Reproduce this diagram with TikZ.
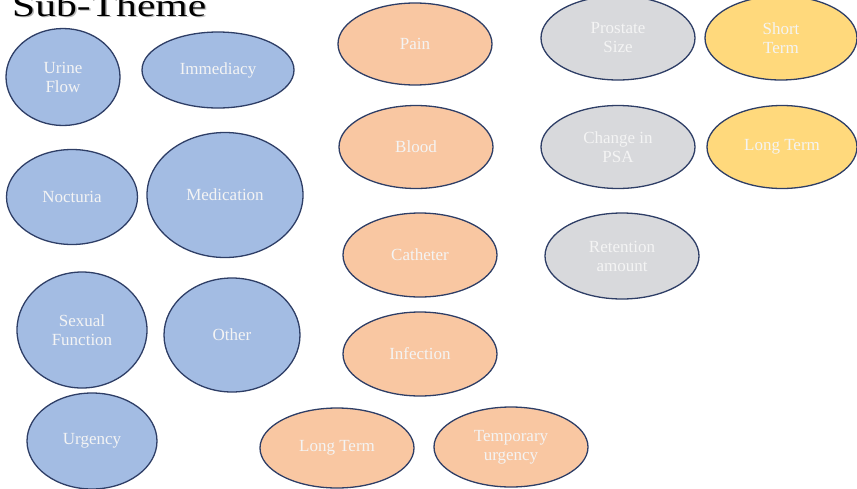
\documentclass[tikz,border=0pt]{standalone}
\usepackage{fontspec}
\setmainfont{Liberation Serif}
\newfontfamily\headfont[FakeStretch=1.3]{Liberation Serif}
\usetikzlibrary{shapes.geometric}
\definecolor{edge}{HTML}{2E3E66}
\definecolor{blueF}{HTML}{A3BCE3}
\definecolor{orangeF}{HTML}{F9C7A2}
\definecolor{greyF}{HTML}{D8D9DC}
\definecolor{yellowF}{HTML}{FFD97C}
\definecolor{label}{HTML}{F4F4F4}
\begin{document}
\begin{tikzpicture}[x=1pt,y=-1pt,
  bub/.style={ellipse, draw=edge, line width=1.3pt, inner sep=0pt,
    text=label, font=\fontsize{17}{19}\selectfont, align=center},
  blue/.style={bub, fill=blueF},
  peach/.style={bub, fill=orangeF},
  grey/.style={bub, fill=greyF},
  gold/.style={bub, fill=yellowF},
  heading/.style={anchor=base west, inner sep=0pt, font=\headfont\fontsize{32}{32}\selectfont}]
\useasboundingbox (0,0) rectangle (857,488);
% heading with a soft drop shadow
\node[heading, text=gray!55] (shadow) at (13.5,17.5) {Sub-Theme};
\node[heading] (title) at (12,16) {Sub-Theme};
% first column group
\node[blue, minimum width=114, minimum height=97] (urine) at (63,77) {Urine\\Flow};
\node[blue, minimum width=152, minimum height=76] (immed) at (218,70) {Immediacy};
\node[blue, minimum width=131, minimum height=95] (noct) at (72,197) {Nocturia};
\node[blue, minimum width=156, minimum height=125] (medic) at (225,195) {Medication};
\node[blue, minimum width=130, minimum height=116] (sexual) at (82,330) {Sexual\\Function};
\node[blue, minimum width=136, minimum height=114] (other) at (232,335) {Other};
\node[blue, minimum width=130, minimum height=96] (urgency) at (92,441) {Urgency};
% second group
\node[peach, minimum width=154, minimum height=82] (pain) at (415,44) {Pain};
\node[peach, minimum width=154, minimum height=83] (blood) at (416,147) {Blood};
\node[peach, minimum width=154, minimum height=84] (cath) at (420,255) {Catheter};
\node[peach, minimum width=154, minimum height=84] (infect) at (420,354) {Infection};
\node[peach, minimum width=154, minimum height=80] (longA) at (337,448) {Long Term};
\node[peach, minimum width=154, minimum height=80] (temp) at (511,447) {Temporary\\urgency};
% third group
\node[grey, minimum width=154, minimum height=84] (prostate) at (618,38) {Prostate\\Size};
\node[grey, minimum width=154, minimum height=83] (psa) at (618,147) {Change in\\PSA};
\node[grey, minimum width=154, minimum height=86] (retent) at (622,256) {Retention\\amount};
% fourth group
\node[gold, minimum width=152, minimum height=84] (short) at (781,38) {Short\\Term};
\node[gold, minimum width=150, minimum height=83] (longB) at (782,147) {Long Term};
\end{tikzpicture}
\end{document}
